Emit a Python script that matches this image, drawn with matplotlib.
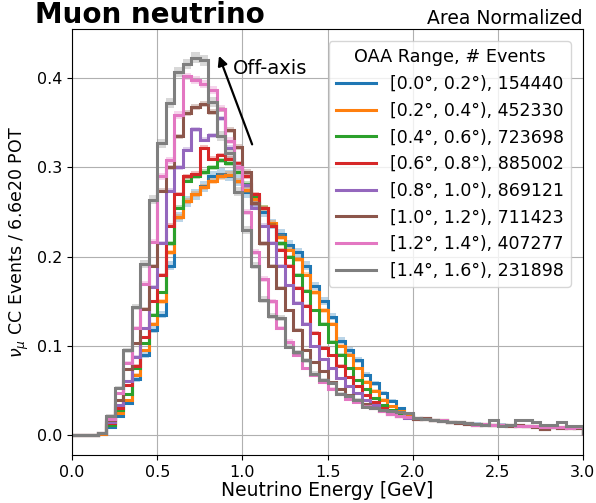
"""Area-normalized muon neutrino CC energy spectra in off-axis angle slices."""

import numpy as np
from matplotlib import pyplot

edges = np.round(np.arange(0.0, 3.0001, 0.05), 2)

labels = ['[0.0°, 0.2°), 154440', '[0.2°, 0.4°), 452330', '[0.4°, 0.6°), 723698',
          '[0.6°, 0.8°), 885002', '[0.8°, 1.0°), 869121', '[1.0°, 1.2°), 711423',
          '[1.2°, 1.4°), 407277', '[1.4°, 1.6°), 231898']
n_events = [154440, 452330, 723698, 885002, 869121, 711423, 407277, 231898]
colors = ['tab:blue', 'tab:orange', 'tab:green', 'tab:red',
          'tab:purple', 'tab:brown', 'tab:pink', 'tab:gray']

tail_a = [0.018, 0.019, 0.017, 0.016, 0.015, 0.014, 0.013, 0.013, 0.012, 0.011,
          0.012, 0.010, 0.011, 0.010, 0.009, 0.007, 0.009, 0.008, 0.009, 0.008]
tail_b = [0.019, 0.018, 0.017, 0.017, 0.015, 0.015, 0.014, 0.012, 0.013, 0.011,
          0.011, 0.011, 0.010, 0.010, 0.010, 0.009, 0.009, 0.009, 0.008, 0.009]

oaa_00 = [0, 0, 0, 0.001, 0.009, 0.022, 0.036, 0.063, 0.090, 0.118,
          0.135, 0.190, 0.245, 0.262, 0.270, 0.279, 0.290, 0.293, 0.291, 0.285,
          0.272, 0.260, 0.250, 0.237, 0.226, 0.213, 0.205, 0.190, 0.167, 0.150,
          0.133, 0.106, 0.095, 0.084, 0.068, 0.058, 0.047, 0.038, 0.030, 0.024] + tail_a
oaa_02 = [0, 0, 0, 0.001, 0.011, 0.025, 0.039, 0.068, 0.095, 0.125,
          0.150, 0.205, 0.245, 0.262, 0.270, 0.278, 0.285, 0.290, 0.292, 0.285,
          0.275, 0.265, 0.255, 0.238, 0.222, 0.208, 0.197, 0.180, 0.160, 0.140,
          0.125, 0.100, 0.090, 0.075, 0.060, 0.050, 0.040, 0.033, 0.027, 0.022] + tail_b
oaa_04 = [0, 0, 0, 0.002, 0.012, 0.028, 0.046, 0.075, 0.103, 0.135,
          0.160, 0.215, 0.255, 0.285, 0.290, 0.295, 0.300, 0.308, 0.305, 0.295,
          0.282, 0.268, 0.255, 0.235, 0.215, 0.200, 0.180, 0.162, 0.140, 0.125,
          0.105, 0.090, 0.075, 0.062, 0.052, 0.042, 0.034, 0.028, 0.024, 0.020] + tail_b
oaa_06 = [0, 0, 0, 0.002, 0.014, 0.030, 0.056, 0.078, 0.110, 0.150,
          0.180, 0.235, 0.270, 0.290, 0.293, 0.322, 0.310, 0.314, 0.310, 0.305,
          0.290, 0.270, 0.255, 0.235, 0.208, 0.190, 0.165, 0.145, 0.115, 0.098,
          0.090, 0.078, 0.065, 0.055, 0.045, 0.037, 0.030, 0.025, 0.022, 0.020] + tail_a
oaa_08 = [0, 0, 0, 0.002, 0.015, 0.034, 0.061, 0.088, 0.120, 0.166,
          0.215, 0.274, 0.300, 0.320, 0.343, 0.331, 0.336, 0.355, 0.322, 0.300,
          0.280, 0.255, 0.235, 0.215, 0.190, 0.168, 0.148, 0.125, 0.100, 0.085,
          0.075, 0.064, 0.055, 0.047, 0.040, 0.034, 0.028, 0.024, 0.021, 0.019] + tail_b
oaa_10 = [0, 0, 0, 0.003, 0.017, 0.040, 0.074, 0.103, 0.142, 0.190,
          0.274, 0.300, 0.335, 0.361, 0.368, 0.371, 0.362, 0.365, 0.342, 0.323,
          0.295, 0.260, 0.215, 0.190, 0.165, 0.140, 0.118, 0.095, 0.082, 0.072,
          0.060, 0.052, 0.045, 0.040, 0.035, 0.030, 0.027, 0.024, 0.022, 0.020] + tail_a
oaa_12 = [0, 0, 0, 0.003, 0.018, 0.047, 0.081, 0.120, 0.170, 0.217,
          0.290, 0.308, 0.359, 0.402, 0.398, 0.394, 0.387, 0.366, 0.330, 0.300,
          0.250, 0.205, 0.175, 0.150, 0.120, 0.105, 0.090, 0.075, 0.067, 0.060,
          0.052, 0.046, 0.041, 0.037, 0.033, 0.030, 0.027, 0.024, 0.022, 0.020] + tail_b
oaa_14 = [0, 0, 0, 0.003, 0.022, 0.053, 0.095, 0.144, 0.192, 0.264,
          0.327, 0.372, 0.407, 0.416, 0.423, 0.420, 0.373, 0.335, 0.316, 0.273,
          0.230, 0.190, 0.152, 0.134, 0.131, 0.099, 0.093, 0.084, 0.069, 0.062,
          0.059, 0.046, 0.044, 0.040, 0.032, 0.031, 0.028, 0.027, 0.026, 0.025,
          0.019, 0.018, 0.017, 0.016, 0.015, 0.015, 0.014, 0.013, 0.012, 0.017,
          0.010, 0.011, 0.017, 0.017, 0.015, 0.012, 0.011, 0.015, 0.010, 0.010]

spectra = [oaa_00, oaa_02, oaa_04, oaa_06, oaa_08, oaa_10, oaa_12, oaa_14]

pyplot.rc('font', size=11.5)
fig = pyplot.figure(figsize=(5.96, 5.03), dpi=100)
ax = fig.add_axes([0.121, 0.095, 0.857, 0.847])
ax.grid(color='#b0b0b0', linewidth=0.8)
ax.set_axisbelow(True)

for vals, n, color, label in zip(spectra, n_events, colors, labels):
    vals = np.asarray(vals, dtype=float)
    err = np.sqrt(vals / (n * 0.05))  # statistical uncertainty on normalized bins
    ax.stairs(vals + err, edges, baseline=vals - err, fill=True,
              color=color, alpha=0.3, linewidth=0)
    ax.stairs(vals, edges, color=color, linewidth=2.2, label=label)

ax.set_xlim(0.0, 3.0)
ax.set_ylim(-0.0224, 0.455)
ax.set_xticks([0.0, 0.5, 1.0, 1.5, 2.0, 2.5, 3.0])
ax.set_yticks([0.0, 0.1, 0.2, 0.3, 0.4])
ax.set_xlabel('Neutrino Energy [GeV]', fontsize=13.5, labelpad=1)
ax.set_ylabel(r'$\nu_\mu$ CC Events / 6.6e20 POT', fontsize=12.5, labelpad=4)
ax.set_title('Area Normalized', loc='right', fontsize=13.5, pad=4)

ax.annotate('', xy=(0.857, 0.428), xytext=(1.063, 0.323),
            arrowprops=dict(arrowstyle='-|>', color='black', lw=1.6,
                            mutation_scale=14))
ax.text(0.945, 0.411, 'Off-axis', fontsize=14, va='center', ha='left')

ax.legend(title='OAA Range, # Events', loc='upper right', fontsize=12.5,
          title_fontsize=12.7, handlelength=2.3, labelspacing=0.5,
          borderaxespad=0.7)

fig.text(0.058, 1 - 23 / 503, 'Muon neutrino', fontsize=20, fontweight='bold',
         va='baseline', ha='left')

fig.savefig('out.png', dpi=100)
